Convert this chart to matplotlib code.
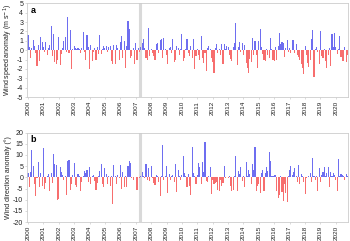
import matplotlib
matplotlib.use("Agg")
import matplotlib.pyplot as plt
import numpy as np

plt.rcParams['font.family'] = ['Liberation Sans', 'DejaVu Sans']

years = list(range(2000, 2021))
year_labels = [str(y) for y in years]

speed_anom = [
    1.6, 0.3, -0.8, 0.2, 1.1, 0.4, -0.3, -1.7, 0.6, -1.2, 1.4, 0.9,
    0.3, -0.2, 0.9, -0.5, 0.2, 0.6, 2.6, -0.6, 1.7, -1.3, -1.5, -1.0,
    1.4, -1.6, -0.4, 0.2, 1.0, 1.4, -0.2, 3.5, -0.3, 2.2, -2.0, 0.1,
    0.5, 0.2, 0.1, 0.2, 0.1, -0.3, 0.2, 1.9, -0.2, -1.0, 1.6, 0.3,
    -2.0, 0.6, -1.1, -0.2, 0.2, -1.0, 0.3, -0.4, 1.6, -0.4, 0.1, 0.4,
    0.2, 0.5, -0.2, 0.3, 0.5, -1.2, -1.5, 0.6, -1.5, 0.6, 0.2, -1.0,
    0.9, 1.5, -0.8, 1.0, -1.9, 0.5, 3.1, 2.3, -0.8, -0.6, 0.2, -1.5,
    0.8, -1.0, 0.2, -0.2, 0.3, 0.8, 1.2, 0.2, -0.8, -1.0, 2.4, -0.6,
    0.1, -0.3, -0.6, -1.0, 0.7, 0.8, -0.3, 1.1, 1.2, -0.8, 1.3, 0.1,
    -0.5, -1.5, 0.2, 0.3, -0.3, 1.2, -1.3, -1.0, 0.5, 0.2, -0.5, 0.1,
    1.7, -1.2, -0.8, 0.1, 1.2, -0.3, -0.6, 0.4, -0.8, 1.2, -2.0, -0.6,
    0.1, -0.5, -1.0, 1.5, -0.8, -1.4, -0.3, -2.2, 0.2, 0.5, 0.1, -0.8,
    -1.3, -2.4, 0.2, 0.7, -0.3, 0.1, -0.5, 0.7, -1.5, 0.7, 0.1, 0.5,
    0.3, -0.5, -0.9, -1.2, 0.3, 0.8, 2.9, -1.6, 0.3, 0.9, -0.2, 0.8,
    -0.5, 0.6, -1.4, -1.9, -2.4, -0.9, -1.3, 1.3, -0.5, 1.0, -0.5, -1.9,
    1.0, 2.3, 0.3, -0.4, -1.0, -1.2, 0.1, -0.5, -0.8, 1.3, 0.1, -1.0,
    -1.2, 0.3, -1.0, 0.4, 1.8, 0.7, 0.9, 0.8, -0.7, 0.2, 1.1, -0.2,
    0.2, -0.3, 1.1, 1.1, -0.3, 0.7, -0.5, -0.7, -1.0, -1.5, -1.9, -2.5,
    0.4, -0.5, -1.4, -1.8, -1.0, 1.2, 2.2, -2.9, 0.1, 0.3, -0.2, -1.5,
    2.1, -0.6, -0.8, 0.1, -1.2, -1.9, -0.5, 0.2, -1.7, 1.7, 0.3, 1.8,
    0.3, -0.4, 0.1, 1.5, -0.7, -1.1, -1.2, 0.3, -1.3, -0.5,
]

direction_anom = [
    2, -4.5, 2.5, 12, 5, -3, -8.5, -0.5, 7, -4.5, 2, -4,
    13, -5, -2.5, 0.5, 1.5, -6, 2, -2.5, 10.5, 6, 5.5, -10,
    -9.5, 4.5, 2.5, 1, -1, 0.5, -8, 7.5, 7.7, -5.5, -3, 1,
    6.5, -3.5, -4.5, 1.5, 0.5, -6, -2, 0.5, 3, 2, 3.5, -2,
    4.5, -3, 0.5, 1, -1.5, -5.5, -2.5, 0.5, 3, 6, -3, -4.5,
    4, 1.5, -3, 0.5, -4, 0.5, -12, 5.5, 0.5, -3, 1, -0.5,
    5.5, -5, 2.5, -4.5, 0.5, -4.5, 5, 7.5, 6.5, -0.5, -1, 0.3,
    0.2, -5.5, 0.3, -0.3, 0.5, 2.5, 0.5, -0.5, 6, -1, 4, -1.5,
    5, -0.5, -2.5, -3.5, 1, 0.5, -2, -8.5, 0.5, 14.5, -1, 0.5,
    5, -7, 1.5, -1, 0.5, 1, -2, 6, -6.5, 3.5, 0.5, -1,
    1, 9.5, 2, 0.5, -4.5, 1.5, -4, -8, 13.5, 2, 0.5, -3,
    1, 6.5, 4.5, -3, 7, 2.5, 16, -1.5, -2, 0.5, 4.5, -7.5,
    -1, -3, -2.5, -2, -5.5, -6, -1, -4, -2.5, 5, -0.5, 0.3,
    -0.5, 0.5, -4, -6, -5.5, 0.5, 9.5, -6, 3, 1.5, 4.5, -1.5,
    0.5, -4.5, 7, 0.5, 3.5, 1.5, -3, 6, 3.5, 13.5, -6, -4,
    -3, -7, 2, 3.5, -6, 2, 4.5, 3, 11.5, 7.5, 0.5, 0.5,
    1, 1, -6, -9, -8, 0.5, -6.5, -10.5, -3, -7, -11, 0.5,
    3.5, 5, 1, 2.5, 4, 0.5, -2, 5.5, -3, 1.5, 0.5, -2,
    -7.5, -0.5, 0.3, 0.5, 2, -2, 8.5, 0.5, -1, 0.5, -6, 4,
    -2, 1, 2.5, 4.5, 0.5, 2, 4.5, -4.5, 2.5, 0.5, 2, 1,
    -1, -6, 8, 0.5, 1.5, 1, 0.5, -1, 1.5, 0.5,
]

POS = '#6E6EF0'
NEG = '#F76E6E'
SPINE = '#cccccc'

fig = plt.figure(figsize=(3.5, 2.41), dpi=100)
ax_a = fig.add_axes([0.077, 0.597, 0.917, 0.389])
ax_b = fig.add_axes([0.077, 0.078, 0.917, 0.372])


def draw(ax, vals, ylim, yticks, ylabel, letter):
    vals = np.asarray(vals, dtype=float)
    x = np.arange(len(vals))
    colors = [POS if v >= 0 else NEG for v in vals]
    ax.bar(x, vals, width=0.85, color=colors, linewidth=0)
    ax.axvline(87, color='#d9d9d9', linewidth=2.2, zorder=0)
    ax.set_xlim(-0.8, 249.4)
    ax.set_ylim(*ylim)
    ax.set_yticks(yticks)
    ax.set_yticklabels([str(t) for t in yticks], fontsize=5)
    ax.set_xticks([12 * i for i in range(len(years))])
    ax.set_xticklabels(year_labels, rotation=90, fontsize=4.6)
    ax.tick_params(axis='both', length=1.5, width=0.5, color=SPINE, pad=1.2,
                   labelcolor='#222222')
    for s in ax.spines.values():
        s.set_color(SPINE)
        s.set_linewidth(0.6)
    ax.set_ylabel(ylabel, fontsize=5, labelpad=1, color='#222222')
    ax.text(0.012, 0.97, letter, transform=ax.transAxes, fontsize=6.5,
            fontweight='bold', va='top', ha='left')


draw(ax_a, speed_anom, (-5, 5), list(range(-5, 6)),
     'Wind speed anomaly (m s$^{-1}$)', 'a')
draw(ax_b, direction_anom, (-20, 20), list(range(-20, 21, 5)),
     'Wind direction anomaly (°)', 'b')

fig.savefig('out.png', dpi=100)
